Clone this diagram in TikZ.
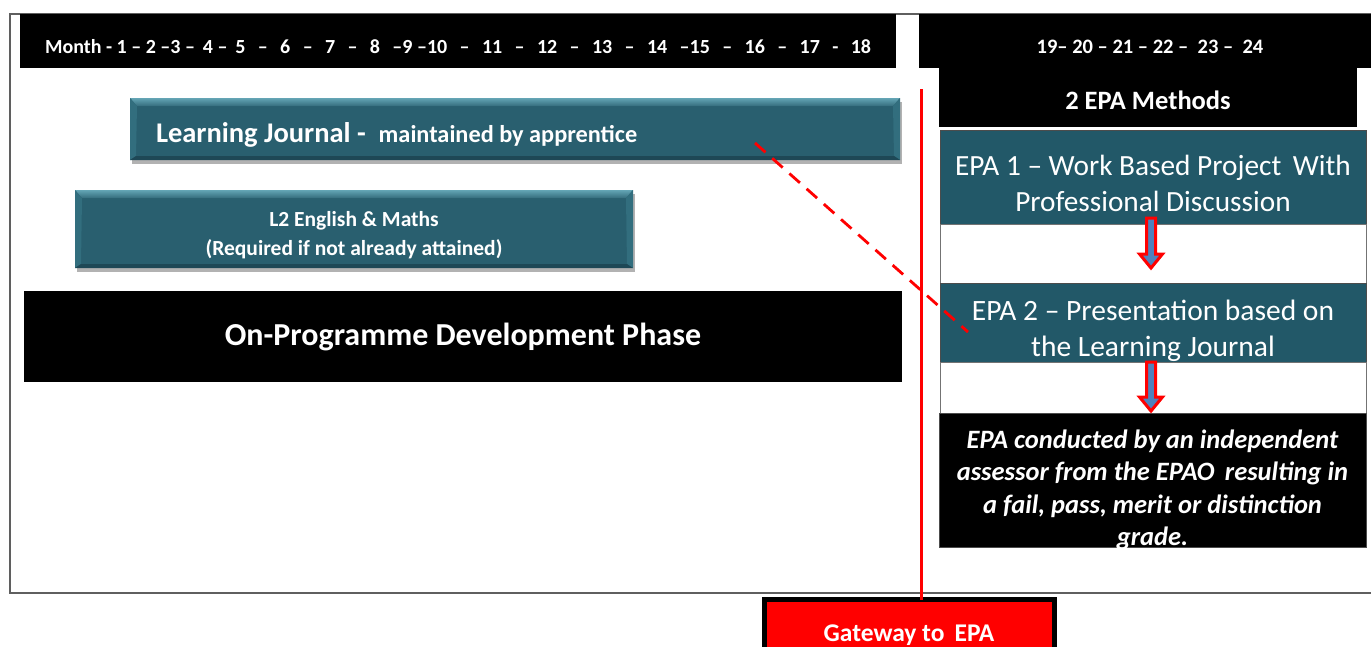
\documentclass[tikz,border=0pt]{standalone}
\usepackage{fontspec}
\setmainfont{Carlito}
\usetikzlibrary{calc,shadows}
\definecolor{tealM}{RGB}{41,95,111}
\definecolor{tealL}{RGB}{100,165,181}
\definecolor{tealS}{RGB}{50,110,126}
\definecolor{tealD}{RGB}{30,72,86}
\definecolor{epateal}{RGB}{34,88,104}
\definecolor{frameGray}{RGB}{95,95,95}
\definecolor{arrowBlue}{RGB}{79,129,189}
\tikzset{
  box/.style={anchor=north west, inner sep=0pt, outer sep=0pt},
  blackbox/.style={box, fill=black, text=white},
  bevelbox/.style={box, fill=tealM, text=white,
    drop shadow={shadow xshift=1.5pt, shadow yshift=-3.5pt, opacity=0.3, fill=black}},
  epabox/.style={box, fill=epateal, draw=black!70, line width=0.8pt},
  gapbox/.style={box, fill=white, draw=black!55, line width=0.8pt},
  txt/.style={text=white, inner sep=0pt, outer sep=0pt, align=center},
  blockarrow/.style={draw=red, line width=3pt, fill=arrowBlue, line join=miter},
  redline/.style={draw=red, line width=3pt},
  reddash/.style={draw=red, line width=2.8pt, dash pattern=on 14pt off 9pt},
}
\newcommand\bevelit[1]{%
  \shade[top color=tealL, bottom color=tealM!80!tealL] (#1.north west) -- (#1.north east) -- ($(#1.north east)+(-7,8)$) -- ($(#1.north west)+(7,8)$) -- cycle;
  \fill[tealS] (#1.north west) -- ($(#1.north west)+(7,8)$) -- ($(#1.south west)+(6,-4)$) -- (#1.south west) -- cycle;
  \fill[tealS] (#1.north east) -- ($(#1.north east)+(-7,8)$) -- ($(#1.south east)+(-6,-4)$) -- (#1.south east) -- cycle;
  \fill[tealD] (#1.south west) -- ($(#1.south west)+(6,-4)$) -- ($(#1.south east)+(-6,-4)$) -- (#1.south east) -- cycle;
}
\newcommand\blockdown[2]{% top coordinate, tip coordinate
  \draw[blockarrow] ($(#1)+(-4.5,0)$) -- ($(#1)+(4.5,0)$) -- ($(#2)+(4.5,-14)$) -- ($(#2)+(11.5,-14)$)
    -- (#2) -- ($(#2)+(-11.5,-14)$) -- ($(#2)+(-4.5,-14)$) -- cycle;
}
\begin{document}
\begin{tikzpicture}[x=1pt,y=-1pt]
\clip (0,0) rectangle (1371,646);
\fill[white] (0,0) rectangle (1371,646);
% outer frame
\draw[frameGray, line width=1.3pt] (10,14) rectangle (1390,593);

% headers
\node[blackbox, minimum width=876, minimum height=54] (months) at (20,14) {};
\node[txt, font=\bfseries\fontsize{20}{22}\selectfont] (monthtxt) at ($(months.center)+(0,6)$)
  {Month - 1 -- 2 --3 --\, 4 --\, 5 \, -- \, 6 \, -- \, 7 \, -- \, 8 \, --9 --10 \, -- \, 11 \, -- \, 12 \, -- \, 13 \, -- \, 14 \, --15 \, -- \, 16 \, -- \, 17 \, - \, 18};
\node[blackbox, minimum width=461, minimum height=54] (months2) at (919,14) {};
\node[txt, font=\bfseries\fontsize{20.5}{22}\selectfont] (months2txt) at (1150,47)
  {19-- 20 -- 21 -- 22 -- \ 23 -- \ 24};
\node[blackbox, minimum width=418, minimum height=60] (methods) at (939,67) {};
\node[txt, font=\bfseries\fontsize{26.5}{28}\selectfont] (methodstxt) at ($(methods.center)+(0,3.5)$)
  {2 EPA Methods};

% left bars
\node[bevelbox, minimum width=770, minimum height=62] (lj) at (130,98) {};
\bevelit{lj}
\node[txt, anchor=base west] (ljtxt) at (156,142)
  {\bfseries\fontsize{28.5}{30}\selectfont Learning Journal -\ \ \fontsize{24.3}{26}\selectfont maintained by apprentice};

\node[bevelbox, minimum width=558, minimum height=78] (l2) at (75,190) {};
\bevelit{l2}
\node[txt, font=\bfseries\fontsize{21.5}{29}\selectfont] (l2txt) at ($(l2.center)+(0,6.5)$)
  {L2 English \& Maths\\(Required if not already attained)};

\node[blackbox, minimum width=878, minimum height=91,
  font=\bfseries\fontsize{32}{34}\selectfont] (onprog) at (24,291)
  {On-Programme Development Phase};

% EPA column
\node[epabox, minimum width=426, minimum height=94] (epa1) at (940,130) {};
\node[gapbox, minimum width=426, minimum height=59] (gap1) at (940,224) {};
\node[epabox, minimum width=426, minimum height=79] (epa2) at (940,283) {};
\node[gapbox, minimum width=426, minimum height=51] (gap2) at (940,362) {};
\node[box, fill=black, draw=black!70, line width=0.8pt, minimum width=427, minimum height=134] (result) at (939,413) {};

\node[txt, font=\fontsize{29.3}{36}\selectfont] (epa1txt) at ($(epa1.center)+(0,6)$)
  {EPA 1 -- Work Based Project\, With\\Professional Discussion};
\node[txt, font=\fontsize{29.5}{36}\selectfont] (epa2txt) at ($(epa2.center)+(0,8)$)
  {EPA 2 -- Presentation based on\\the Learning Journal};
\begin{scope}
  \clip (result.north west) rectangle (result.south east);
  \node[txt, font=\bfseries\itshape\fontsize{26.5}{32.5}\selectfont] (restxt) at ($(result.center)+(0,10)$)
    {EPA conducted by an independent\\assessor from the EPAO\, resulting in\\a fail, pass, merit or distinction\\grade.};
\end{scope}

% block arrows
\coordinate (a1top) at (1151,218);
\coordinate (a1tip) at (1151,268);
\coordinate (a2top) at (1151,362);
\coordinate (a2tip) at (1151,411);
\blockdown{a1top}{a1tip}
\blockdown{a2top}{a2tip}

% gateway
\node[box, fill=red, draw=black, line width=5pt, minimum width=290, minimum height=74] (gate) at (764.5,599.5) {};
\node[txt, font=\bfseries\fontsize{25.5}{28}\selectfont] (gatetxt) at (909,635)
  {Gateway to\, EPA};

% red vertical line and dashed link
\coordinate (vtop) at (921,89);
\draw[redline] (vtop) -- (vtop |- gate.north);
\coordinate (dstart) at (755,143);
\coordinate (dend) at (968,332);
\draw[reddash] (dstart) -- (dend);
\end{tikzpicture}
\end{document}
